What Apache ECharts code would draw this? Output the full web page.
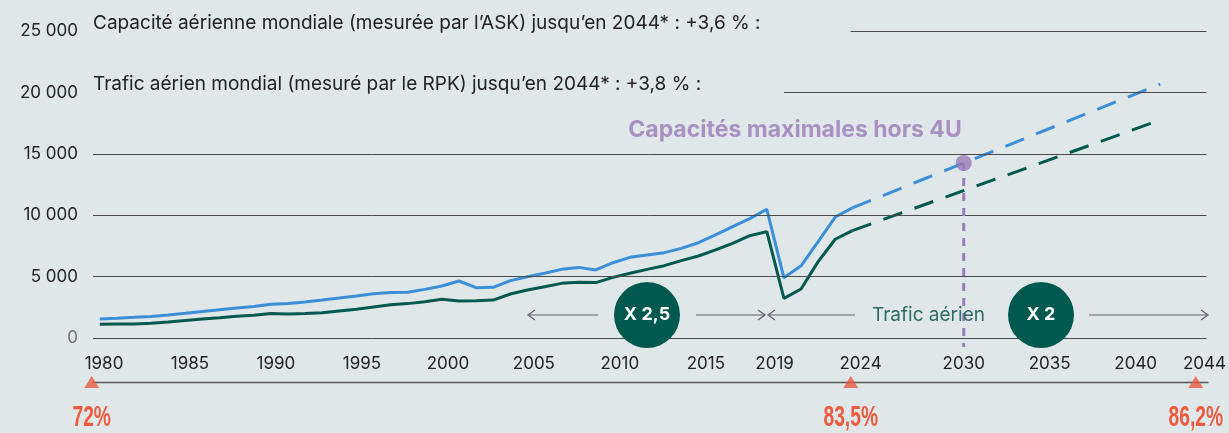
<!DOCTYPE html>
<html><head><meta charset="utf-8">
<script src="https://cdn.jsdelivr.net/npm/echarts@6/dist/echarts.min.js"></script>
<style>html,body{margin:0;padding:0;background:#e0e7e9}#c{width:1229px;height:433px}</style>
</head><body><div id="c"></div>
<script>
// ---------- DATA ----------
const years = [1980,1981,1982,1983,1984,1985,1986,1987,1988,1989,1990,1991,1992,1993,1994,1995,1996,1997,1998,1999,
  2000,2001,2002,2003,2004,2005,2006,2007,2008,2009,2010,2011,2012,2013,2014,2015,2016,2017,2018,2019,2020,2021,2022,2023,2024];
const capacityASK = [1550,1610,1680,1760,1880,2010,2150,2300,2440,2560,2740,2800,2940,3090,3250,3420,3600,3700,3720,3960,
  4230,4640,4100,4130,4670,4990,5270,5590,5750,5540,6130,6570,6760,6950,7300,7760,8390,9070,9720,10480,4900,5880,7840,9850,10600];
const trafficRPK = [1110,1130,1140,1200,1300,1430,1540,1650,1780,1850,2000,1950,2000,2060,2200,2340,2520,2700,2800,2960,
  3160,3020,3040,3090,3580,3910,4180,4450,4530,4510,4940,5270,5590,5890,6300,6680,7170,7710,8330,8660,3230,3990,6220,8040,8750];
const projYears = [2024, 2042];
const capacityProj = [10600, 20680];
const trafficProj = [8750, 17750];
const maxCapYear = 2030;
const maxCapValue = 14250;
const maxCapLabel = 'Capacités maximales hors 4U';
const xTickLabels = [1980,1985,1990,1995,2000,2005,2010,2015,2019,2024,2030,2035,2040,2044];
const yTicks = [0,5000,10000,15000,20000,25000];
const loadFactorYears = [1980, 2024, 2044];
const loadFactorLabels = ['72%', '83,5%', '86,2%'];
const headerTexts = [
  'Capacité aérienne mondiale (mesurée par l’ASK) jusqu’en 2044* : +3,6 % :',
  'Trafic aérien mondial (mesuré par le RPK) jusqu’en 2044* : +3,8 % :'
];
const badgeLabels = ['X 2,5', 'X 2'];
const trafficLabel = 'Trafic aérien';

// ---------- STYLE ----------
const BG = '#e0e7e9', BLUE = '#3b8fd8', GREEN = '#00594e', PURPLE = '#9a7bb9', RED = '#ec5b3f';
const GRID_C = '#4a4a4a', TEXT_C = '#222222', ARROW_C = '#5c6170';
const FONT = 'Inter, "Noto Sans", sans-serif';

const pair = (xs, ys) => xs.map((x, i) => [x, ys[i]]);
const fmt = v => String(v).replace(/\B(?=(\d{3})+(?!\d))/g, ' ');

// gridline start positions (layout): the two top lines start after the header text
const gridStart = {0:1979.6, 5000:1979.6, 10000:1979.6, 15000:1979.6, 20000:2020.0, 25000:2023.9};

const chart = echarts.init(document.getElementById('c'), null, {renderer: 'canvas'});

function arrowHead(x, y, dir) {
  return {type: 'polyline', shape: {points: [[x - dir * 7, y - 5], [x, y], [x - dir * 7, y + 5]]},
    style: {stroke: ARROW_C, lineWidth: 1.3, fill: null}, z: 10};
}
function hline(x1, x2, y) {
  return {type: 'line', shape: {x1, y1: y, x2, y2: y}, style: {stroke: ARROW_C, lineWidth: 1.2}, z: 10};
}

const ARROW_Y = 315;
const graphics = [
  {type: 'text', x: 93, y: 23, style: {text: headerTexts[0], font: '19px ' + FONT, fill: TEXT_C, verticalAlign: 'middle'}},
  {type: 'text', x: 93, y: 84, style: {text: headerTexts[1], font: '19px ' + FONT, fill: TEXT_C, verticalAlign: 'middle'}},
  hline(528, 598, ARROW_Y), arrowHead(528, ARROW_Y, -1),
  hline(696, 765, ARROW_Y), arrowHead(765, ARROW_Y, 1),
  hline(768, 855, ARROW_Y), arrowHead(768, ARROW_Y, -1),
  {type: 'text', x: 872, y: ARROW_Y, style: {text: trafficLabel, font: '19px ' + FONT, fill: '#2d6b64', verticalAlign: 'middle', align: 'left'}, z: 10},
  hline(1089, 1208, ARROW_Y), arrowHead(1208, ARROW_Y, 1),
  {type: 'circle', shape: {cx: 647, cy: ARROW_Y, r: 33}, style: {fill: GREEN}, z: 10},
  {type: 'text', x: 647, y: ARROW_Y, style: {text: badgeLabels[0], font: 'bold 18px ' + FONT, fill: '#fff', align: 'center', verticalAlign: 'middle'}, z: 11},
  {type: 'circle', shape: {cx: 1041, cy: ARROW_Y, r: 33}, style: {fill: GREEN}, z: 10},
  {type: 'text', x: 1041, y: ARROW_Y, style: {text: badgeLabels[1], font: 'bold 18px ' + FONT, fill: '#fff', align: 'center', verticalAlign: 'middle'}, z: 11}
];

const option = {
  backgroundColor: BG,
  animation: false,
  grid: [
    {left: 93, right: 21, top: 31, bottom: 95},
    {left: 93, right: 21, top: 362, height: 20}
  ],
  xAxis: [
    {type: 'value', gridIndex: 0, min: 1979.6, max: 2044.7, show: false},
    {type: 'value', gridIndex: 0, min: 1979.36, max: 2044.11, position: 'bottom',
      axisLine: {show: false}, axisTick: {show: false}, splitLine: {show: false},
      axisLabel: {customValues: xTickLabels, formatter: v => String(v), margin: 17, fontSize: 17, color: TEXT_C, fontFamily: FONT, showMinLabel: true, showMaxLabel: true}},
    {type: 'value', gridIndex: 1, min: 1980.075, max: 2044.71, position: 'bottom',
      axisLine: {show: true, lineStyle: {color: '#555', width: 1.3}}, axisTick: {show: false},
      axisLabel: {show: false}, splitLine: {show: false}}
  ],
  yAxis: [
    {type: 'value', gridIndex: 0, min: 0, max: 25000, interval: 5000,
      axisLine: {show: false}, axisTick: {show: false}, splitLine: {show: false},
      axisLabel: {formatter: fmt, fontSize: 17, fontFamily: FONT, margin: 15,
        color: (v) => (Number(v) === 0 ? '#6b6f85' : TEXT_C)}},
    {type: 'value', gridIndex: 1, min: 0, max: 1, show: false}
  ],
  series: [
    {type: 'line', name: 'grid', xAxisIndex: 0, yAxisIndex: 0, data: [], silent: true, z: 1,
      markLine: {silent: true, symbol: 'none', label: {show: false}, animation: false,
        lineStyle: {color: GRID_C, width: 1, type: 'solid'},
        data: yTicks.map(v => [{coord: [gridStart[v], v]}, {coord: [2044.7, v]}])}},
    {type: 'line', name: 'Capacité (ASK)', xAxisIndex: 0, yAxisIndex: 0, data: pair(years, capacityASK),
      symbol: 'none', lineStyle: {color: BLUE, width: 3}, z: 4},
    {type: 'line', name: 'Trafic (RPK)', xAxisIndex: 0, yAxisIndex: 0, data: pair(years, trafficRPK),
      symbol: 'none', lineStyle: {color: GREEN, width: 3}, z: 4},
    {type: 'line', name: 'Capacité proj', xAxisIndex: 0, yAxisIndex: 0, data: pair(projYears, capacityProj),
      symbol: 'none', lineStyle: {color: BLUE, width: 3, type: [20, 13]}, z: 4},
    {type: 'line', name: 'Trafic proj', xAxisIndex: 0, yAxisIndex: 0, data: pair(projYears, trafficProj),
      symbol: 'none', lineStyle: {color: GREEN, width: 3, type: [20, 13]}, z: 4},
    {type: 'line', name: 'max drop', xAxisIndex: 1, yAxisIndex: 0, clip: false,
      data: [[maxCapYear, maxCapValue], [maxCapYear, -730]], symbol: 'none',
      lineStyle: {color: PURPLE, width: 3, type: [8, 7]}, z: 5},
    {type: 'scatter', name: 'max cap', xAxisIndex: 1, yAxisIndex: 0, data: [[maxCapYear, maxCapValue]],
      symbolSize: 16, itemStyle: {color: PURPLE}, z: 6,
      label: {show: true, position: 'top', align: 'right', distance: 13, offset: [-2, 0], formatter: maxCapLabel,
        color: PURPLE, fontSize: 23, fontWeight: 'bold', fontFamily: FONT}},
    {type: 'scatter', name: 'load factor', xAxisIndex: 2, yAxisIndex: 1, clip: false,
      data: loadFactorYears.map(y => [y, 0]), symbol: 'triangle', symbolSize: [15, 12],
      itemStyle: {color: RED}, z: 6}
  ],
  graphic: graphics
};
chart.setOption(option);

// load-factor labels: condensed bold text placed under each triangle via the axis scale
const lfGraphics = loadFactorYears.map((yr, i) => {
  const p = chart.convertToPixel({xAxisIndex: 2, yAxisIndex: 1}, [yr, 0]);
  return {type: 'text', x: p[0], y: p[1] + 21, scaleX: 0.64,
    style: {text: loadFactorLabels[i], font: 'bold 30px "Liberation Sans", Arial, sans-serif', fill: RED, align: 'center', verticalAlign: 'top'}};
});
chart.setOption({graphic: graphics.concat(lfGraphics)});
</script>
</body></html>
